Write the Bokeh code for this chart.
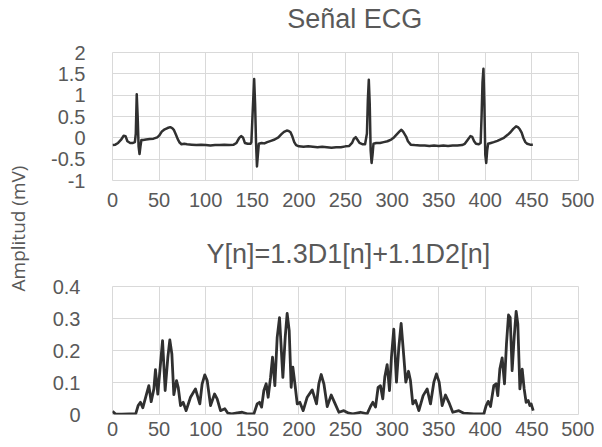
import math
from bokeh.plotting import figure
from bokeh.models import Range1d, FixedTicker, Label
from bokeh.layouts import row, column
from bokeh.embed import file_html
from bokeh.resources import INLINE

# ---------------- data ----------------
ecg_n = [0, 3, 6, 9, 12, 14, 16, 19, 22, 24, 25, 26, 27, 28, 29, 30, 31, 33, 36, 40, 44, 48, 50,
         53, 56, 59, 62, 64, 66, 68, 70, 72, 74, 77, 80, 85, 90, 95, 100, 105, 110, 115, 120, 125,
         130, 133, 136, 138, 140, 142, 145, 148, 149, 150, 151, 152, 153, 154, 155, 156, 157, 160,
         163, 166, 170, 174, 178, 181, 184, 187, 189, 191, 193, 195, 197, 200, 205, 210, 215, 220,
         225, 230, 235, 240, 245, 250, 254, 257, 259, 261, 263, 265, 268, 271, 273, 274, 275, 276,
         277, 278, 279, 280, 283, 287, 291, 295, 299, 302, 305, 308, 310, 312, 315, 317, 320, 324,
         330, 335, 340, 345, 350, 355, 360, 365, 370, 375, 378, 381, 384, 386, 388, 390, 393, 395,
         396, 397, 398, 399, 400, 401, 402, 403, 406, 409, 413, 417, 420, 424, 427, 430, 433, 435,
         437, 439, 441, 443, 445, 448, 451]
ecg_mv = [-0.17, -0.16, -0.12, -0.05, 0.05, 0.04, -0.08, -0.12, -0.12, -0.10, 0.10, 1.02, 0.50,
          -0.20, -0.38, -0.20, -0.05, -0.05, -0.04, -0.03, -0.02, 0.01, 0.05, 0.15, 0.20, 0.23,
          0.25, 0.23, 0.18, 0.08, -0.03, -0.11, -0.15, -0.14, -0.15, -0.16, -0.17, -0.16, -0.17,
          -0.18, -0.17, -0.17, -0.16, -0.17, -0.16, -0.12, 0.00, 0.04, 0.01, -0.12, -0.14, -0.14,
          -0.10, 0.40, 0.90, 1.38, 0.80, -0.10, -0.67, -0.40, -0.14, -0.12, -0.13, -0.10, -0.07,
          -0.04, 0.01, 0.08, 0.14, 0.17, 0.16, 0.13, 0.03, -0.10, -0.17, -0.20, -0.21, -0.20,
          -0.21, -0.22, -0.21, -0.22, -0.23, -0.22, -0.22, -0.20, -0.19, -0.12, -0.02, 0.015,
          -0.05, -0.12, -0.15, -0.15, 0.10, 0.90, 1.36, 0.80, -0.30, -0.59, -0.40, -0.14, -0.12,
          -0.12, -0.10, -0.08, -0.04, 0.01, 0.08, 0.15, 0.19, 0.14, 0.03, -0.08, -0.16, -0.17,
          -0.18, -0.18, -0.19, -0.18, -0.19, -0.18, -0.19, -0.18, -0.18, -0.17, -0.14, -0.05,
          0.04, 0.02, -0.08, -0.14, -0.15, -0.12, 0.50, 1.30, 1.62, 0.80, -0.40, -0.59, -0.30,
          -0.14, -0.12, -0.10, -0.07, -0.03, 0.00, 0.07, 0.13, 0.21, 0.27, 0.25, 0.20, 0.12,
          -0.01, -0.10, -0.14, -0.16, -0.16]

y_n = [0, 3, 10, 18, 25, 27.5, 30, 32.5, 36.5, 39, 41.5, 44.4, 46.1, 48.6, 51.5, 53.7, 56.5, 59.4,
       61.5, 63.7, 65.8, 68.7, 70.5, 73, 75.8, 79, 83.7, 89, 93.7, 96.2, 99, 101.6, 105.2, 109.5,
       112.3, 115.9, 120.5, 123.8, 128, 133.8, 139.1, 144.5, 151.7, 155.2, 157.7, 160, 162.4,
       164.9, 167, 169.6, 171.7, 174.2, 176.7, 179.2, 182.8, 185.3, 187.4, 189.6, 191.7, 193.5,
       195.7, 198.2, 201, 204.6, 208.9, 214.3, 218.9, 221.4, 223.9, 226.8, 230.4, 234.7, 238.2,
       242.9, 248.2, 253.6, 258, 266, 273.2, 276.8, 279.3, 282.2, 285, 287.5, 290, 292.2, 294.7,
       297.2, 299.3, 301.8, 304.7, 307.2, 309.7, 312.6, 314.7, 317.6, 319.7, 322.2, 325.1, 328.7,
       333.3, 337.6, 341.2, 344.8, 347.6, 350.5, 353.7, 357.3, 360.9, 365.1, 371.6, 377, 387.7,
       398.4, 400.9, 403.1, 405.6, 409.1, 411.6, 413.4, 415.6, 418.1, 420.6, 422.7, 424.9, 426.7,
       428.8, 431, 433.1, 434.9, 437.1, 439.6, 441.7, 443.8, 446, 447.8, 449.2, 451.4]
y_val = [0.010, 0.002, 0.001, 0.002, 0.003, 0.028, 0.038, 0.021, 0.064, 0.090, 0.040, 0.080,
         0.140, 0.064, 0.158, 0.231, 0.075, 0.179, 0.233, 0.189, 0.062, 0.106, 0.085, 0.028,
         0.038, 0.012, 0.054, 0.080, 0.033, 0.096, 0.124, 0.106, 0.028, 0.064, 0.049, 0.012,
         0.018, 0.004, 0.002, 0.005, 0.007, 0.002, 0.002, 0.033, 0.038, 0.023, 0.075, 0.096,
         0.054, 0.116, 0.179, 0.090, 0.241, 0.303, 0.116, 0.241, 0.316, 0.262, 0.085, 0.148,
         0.096, 0.033, 0.038, 0.012, 0.054, 0.077, 0.033, 0.096, 0.125, 0.096, 0.025, 0.061,
         0.038, 0.007, 0.012, 0.004, 0.002, 0.007, 0.002, 0.025, 0.038, 0.023, 0.085, 0.090,
         0.049, 0.118, 0.156, 0.075, 0.179, 0.267, 0.101, 0.210, 0.285, 0.179, 0.101, 0.135,
         0.106, 0.033, 0.044, 0.012, 0.059, 0.080, 0.033, 0.101, 0.127, 0.101, 0.028, 0.061,
         0.038, 0.007, 0.012, 0.004, 0.002, 0.002, 0.028, 0.041, 0.025, 0.090, 0.096, 0.059,
         0.142, 0.177, 0.096, 0.220, 0.311, 0.303, 0.137, 0.241, 0.322, 0.283, 0.080, 0.142,
         0.080, 0.038, 0.044, 0.028, 0.033, 0.012]

x_ticks = [0, 50, 100, 150, 200, 250, 300, 350, 400, 450, 500]
ecg_ticks = [-1, -0.5, 0, 0.5, 1, 1.5, 2]
ecg_tick_labels = ["-1", "-0.5", "0", "0.5", "1", "1.5", "2"]
y_ticks = [0, 0.1, 0.2, 0.3, 0.4]
y_tick_labels = ["0", "0.1", "0.2", "0.3", "0.4"]
title_top = "Señal ECG"
title_bottom = "Y[n]=1.3D1[n]+1.1D2[n]"
y_label = "Amplitud (mV)"

# ---------------- style ----------------
FONT = "Liberation Sans"
GREY = "#595959"
GRID = "#d9d9d9"
LINE = "#303030"
LAB_W = 44
LEFT, RIGHT = 68, 16
FRAME_W = 466
FIG_W = LEFT + FRAME_W + RIGHT
X_MAX = 500
TOTAL_H = 447


def make_fig(yrange, yticks, ylabels, height, top, bottom, ystandoff, xstandoff, xs, ys, lw):
    p = figure(width=FIG_W, height=height,
               x_range=Range1d(0, X_MAX), y_range=Range1d(*yrange),
               output_backend="svg", toolbar_location=None,
               min_border_left=LEFT, min_border_right=RIGHT,
               min_border_top=top, min_border_bottom=bottom)
    for ax in (p.xaxis, p.yaxis):
        ax.axis_line_color = None
        ax.major_tick_line_color = None
        ax.minor_tick_line_color = None
        ax.major_tick_out = 0
        ax.major_tick_in = 0
        ax.major_label_text_font = FONT
        ax.major_label_text_font_size = "20px"
        ax.major_label_text_color = GREY

    p.xaxis.ticker = FixedTicker(ticks=x_ticks)
    p.xaxis.major_label_standoff = xstandoff
    p.yaxis.ticker = FixedTicker(ticks=yticks)
    p.yaxis.major_label_overrides = {v: t for v, t in zip(yticks, ylabels)}
    p.yaxis.major_label_standoff = ystandoff

    p.xgrid.grid_line_color = GRID
    p.ygrid.grid_line_color = GRID
    p.outline_line_color = GRID
    p.outline_line_width = 1

    p.line(xs, ys, line_color=LINE, line_width=lw, line_join="round")
    return p


def title_fig(text, height, x, y):
    # a plain strip that shares the plots' horizontal frame, holding one title
    f = figure(width=FIG_W, height=height, x_range=Range1d(0, X_MAX), y_range=Range1d(0, height),
               output_backend="svg", toolbar_location=None,
               min_border_left=LEFT, min_border_right=RIGHT, min_border_top=0,
               min_border_bottom=0, x_axis_location=None, y_axis_location=None)
    f.grid.visible = False
    f.outline_line_color = None
    f.add_layout(Label(x=x, y=y, text=text, text_align="center", text_baseline="alphabetic",
                       text_font=FONT, text_font_size="27px", text_color=GREY))
    return f


t1 = title_fig(title_top, 40, 260, 21.5)
top = make_fig((-1, 2), ecg_ticks, ecg_tick_labels, 180, 12, 40, 27, 12,
               ecg_n, ecg_mv, 2.5)
t2 = title_fig(title_bottom, 54, 253, 20.5)
bot = make_fig((0, 0.4), y_ticks, y_tick_labels, 173, 12, 33, 32, 7,
               y_n, y_val, 2.8)

lab = figure(width=LAB_W, height=TOTAL_H, x_range=Range1d(0, LAB_W), y_range=Range1d(0, TOTAL_H),
             output_backend="svg", toolbar_location=None, min_border=0,
             x_axis_location=None, y_axis_location=None)
lab.grid.visible = False
lab.outline_line_color = None
lab.add_layout(Label(x=17, y=TOTAL_H - 228, text=y_label, angle=math.pi / 2,
                     text_align="center", text_baseline="middle",
                     text_font="Open Sans", text_font_size="19px", text_color=GREY))

layout = row(lab, column(t1, top, t2, bot))
open("out.html", "w").write(file_html(layout, INLINE))
